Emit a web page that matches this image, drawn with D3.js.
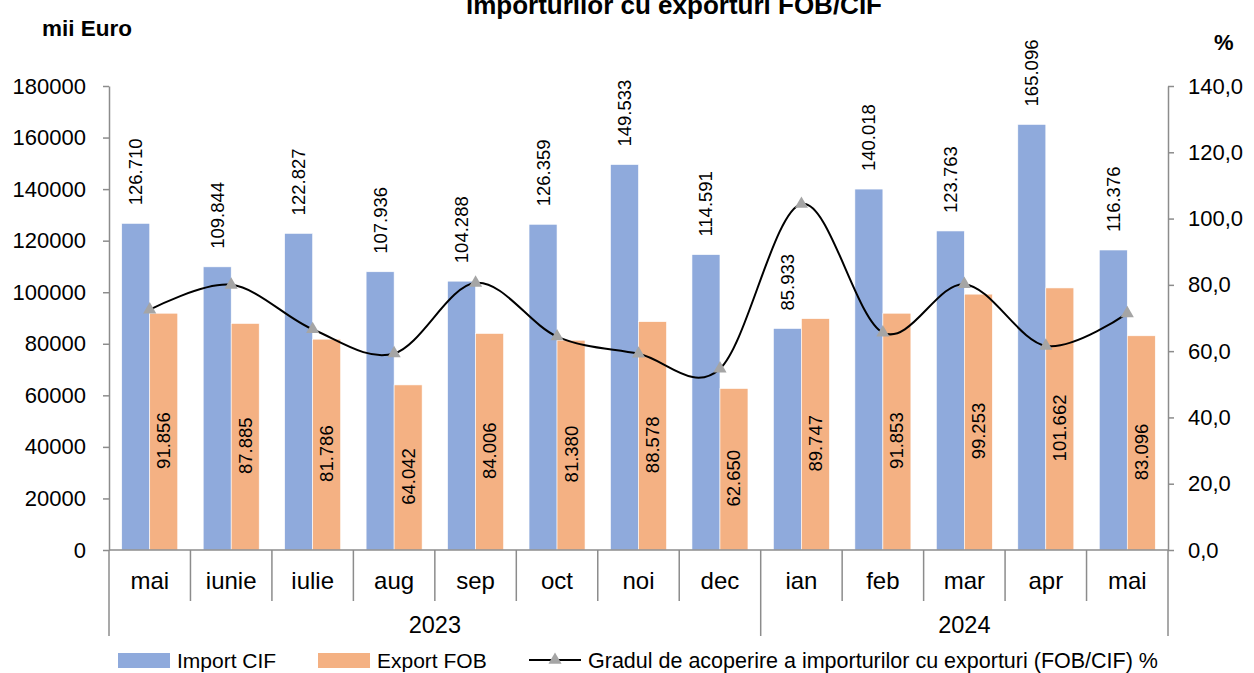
<!DOCTYPE html>
<html>
<head>
<meta charset="utf-8">
<script src="https://cdn.jsdelivr.net/npm/d3@7"></script>
<style>
  html, body { margin: 0; padding: 0; background: #fff; }
  svg { display: block; font-family: "Liberation Sans", Arial, sans-serif; }
</style>
</head>
<body>
<svg id="chart" width="1254" height="673"></svg>
<script>
/********/
/* data */
/********/

const months = ["mai", "iunie", "iulie", "aug", "sep", "oct", "noi", "dec", "ian", "feb", "mar", "apr", "mai"];
const years = ["2023", "2024"];
const yearStart = [0, 8];
const yearEnd = [8, 13];
const importCIF = [126710, 109844, 122827, 107936, 104288, 126359, 149533, 114591, 85933, 140018, 123763, 165096, 116376];
const exportFOB = [91856, 87885, 81786, 64042, 84006, 81380, 88578, 62650, 89747, 91853, 99253, 101662, 83096];
const coverage = [72.5, 80.0, 66.6, 59.3, 80.6, 64.4, 59.2, 54.7, 104.4, 65.6, 80.2, 61.6, 71.4];
const leftTicks = [0, 20000, 40000, 60000, 80000, 100000, 120000, 140000, 160000, 180000];
const rightTicks = [0, 20, 40, 60, 80, 100, 120, 140];

const seriesNames = ["Import CIF", "Export FOB", "Gradul de acoperire a importurilor cu exporturi (FOB/CIF) %"];

/**********/
/* config */
/**********/

const colImport = "#8faadc";
const colExport = "#f4b183";
const colAxis = "#8c8c8c";
const colMarker = "#a5a5a5";

const plotLeft = 109;
const plotRight = 1168;
const plotTop = 86;
const plotBottom = 550;
const barW = 28;

const ro = d3.formatLocale({ decimal: ",", thousands: ".", grouping: [3], currency: ["", ""] });

const svg = d3.select("#chart");

const x = d3.scaleBand().domain(d3.range(months.length)).range([plotLeft, plotRight]).padding(0);
const y = d3.scaleLinear().domain([0, 180000]).range([plotBottom, plotTop]);
const y2 = d3.scaleLinear().domain([0, 140]).range([plotBottom, plotTop]);
const cx = i => x(i) + x.bandwidth() / 2;
const fmtK = v => d3.format(".3f")(v / 1000);

/*********/
/* title */
/*********/

// the first title line sits above the picture, only the second is visible
svg.append("text")
  .attr("x", 674).attr("y", 14)
  .attr("text-anchor", "middle")
  .attr("font-size", 26).attr("font-weight", "bold")
  .text("importurilor cu exporturi FOB/CIF");

svg.append("text")
  .attr("x", 42).attr("y", 36)
  .attr("font-size", 22.5).attr("font-weight", "bold")
  .text("mii Euro");

svg.append("text")
  .attr("x", 1214).attr("y", 50)
  .attr("font-size", 22).attr("font-weight", "bold")
  .text("%");

/********/
/* bars */
/********/

const g = svg.append("g");

g.selectAll(".bar-import")
  .data(importCIF)
  .enter()
  .append("rect")
  .attr("class", "bar-import")
  .attr("x", (d, i) => cx(i) - barW)
  .attr("y", d => y(d))
  .attr("width", barW)
  .attr("height", d => plotBottom - y(d))
  .attr("fill", colImport)
  .attr("stroke", "#fff")
  .attr("stroke-width", 0.6);

g.selectAll(".bar-export")
  .data(exportFOB)
  .enter()
  .append("rect")
  .attr("class", "bar-export")
  .attr("x", (d, i) => cx(i))
  .attr("y", d => y(d))
  .attr("width", barW)
  .attr("height", d => plotBottom - y(d))
  .attr("fill", colExport)
  .attr("stroke", "#fff")
  .attr("stroke-width", 0.6);

// import labels above the bars, rotated
g.selectAll(".lbl-import")
  .data(importCIF)
  .enter()
  .append("text")
  .attr("transform", (d, i) => `translate(${cx(i) - barW / 2 + 6.5}, ${y(d) - 18}) rotate(-90)`)
  .attr("font-size", 18.5)
  .attr("text-anchor", "start")
  .text(d => fmtK(d));

// export labels inside the bars, rotated
g.selectAll(".lbl-export")
  .data(exportFOB)
  .enter()
  .append("text")
  .attr("transform", (d, i) => `translate(${cx(i) + barW / 2 + 6.5}, ${(y(d) + plotBottom) / 2 + 9}) rotate(-90)`)
  .attr("font-size", 18.5)
  .attr("text-anchor", "middle")
  .text(d => fmtK(d));

/********/
/* line */
/********/

const line = d3.line()
  .x((d, i) => cx(i))
  .y(d => y2(d))
  .curve(d3.curveCardinal.tension(0));

g.append("path")
  .datum(coverage)
  .attr("d", line)
  .attr("fill", "none")
  .attr("stroke", "#000")
  .attr("stroke-width", 2);

const tri = d3.symbol().type(d3.symbolTriangle).size(75);

g.selectAll(".marker")
  .data(coverage)
  .enter()
  .append("path")
  .attr("d", tri)
  .attr("transform", (d, i) => `translate(${cx(i)}, ${y2(d)})`)
  .attr("fill", colMarker);

/********/
/* axes */
/********/

function styleAxis(sel) {
  sel.selectAll("path, line").attr("stroke", colAxis).attr("stroke-width", 1.5);
  sel.selectAll("text").attr("font-size", 22).attr("fill", "#000")
    .attr("font-family", "'Liberation Sans', Arial, sans-serif");
}

svg.append("g")
  .attr("transform", `translate(${plotLeft},0)`)
  .call(d3.axisLeft(y).tickValues(leftTicks).tickFormat(d3.format("d"))
    .tickSize(6).tickSizeOuter(0).tickPadding(17))
  .call(styleAxis);

svg.append("g")
  .attr("transform", `translate(${plotRight},0)`)
  .call(d3.axisRight(y2).tickValues(rightTicks).tickFormat(ro.format(".1f"))
    .tickSize(6).tickSizeOuter(0).tickPadding(14))
  .call(styleAxis);

// category axis: month labels and dividers
const cat = svg.append("g");

cat.append("line")
  .attr("x1", plotLeft).attr("x2", plotRight)
  .attr("y1", plotBottom).attr("y2", plotBottom)
  .attr("stroke", colAxis).attr("stroke-width", 1.5);

const bounds = d3.range(months.length + 1);
const yearBounds = [0].concat(yearEnd);

cat.selectAll(".div")
  .data(bounds)
  .enter()
  .append("line")
  .attr("x1", i => plotLeft + i * x.step())
  .attr("x2", i => plotLeft + i * x.step())
  .attr("y1", plotBottom)
  .attr("y2", i => (yearBounds.includes(i) ? 636 : 601))
  .attr("stroke", colAxis)
  .attr("stroke-width", 1.5);

cat.selectAll(".month")
  .data(months)
  .enter()
  .append("text")
  .attr("x", (d, i) => cx(i))
  .attr("y", 589)
  .attr("text-anchor", "middle")
  .attr("font-size", 24)
  .text(d => d);

cat.selectAll(".year")
  .data(years)
  .enter()
  .append("text")
  .attr("x", (d, i) => (plotLeft + yearStart[i] * x.step() + plotLeft + yearEnd[i] * x.step()) / 2)
  .attr("y", 633)
  .attr("text-anchor", "middle")
  .attr("font-size", 23.5)
  .text(d => d);

/**********/
/* legend */
/**********/

const lg = svg.append("g").attr("transform", "translate(0,660)");

lg.append("rect").attr("x", 118).attr("y", -7).attr("width", 52).attr("height", 15).attr("fill", colImport);
lg.append("text").attr("x", 177).attr("y", 8).attr("font-size", 21).text(seriesNames[0]);

lg.append("rect").attr("x", 318).attr("y", -7).attr("width", 52).attr("height", 15).attr("fill", colExport);
lg.append("text").attr("x", 377).attr("y", 8).attr("font-size", 21).text(seriesNames[1]);

lg.append("line").attr("x1", 529).attr("x2", 581).attr("y1", 0).attr("y2", 0)
  .attr("stroke", "#000").attr("stroke-width", 2);
lg.append("path").attr("d", tri).attr("transform", "translate(555,0)").attr("fill", colMarker);
lg.append("text").attr("x", 588).attr("y", 8).attr("font-size", 21.5).text(seriesNames[2]);
</script>
</body>
</html>
